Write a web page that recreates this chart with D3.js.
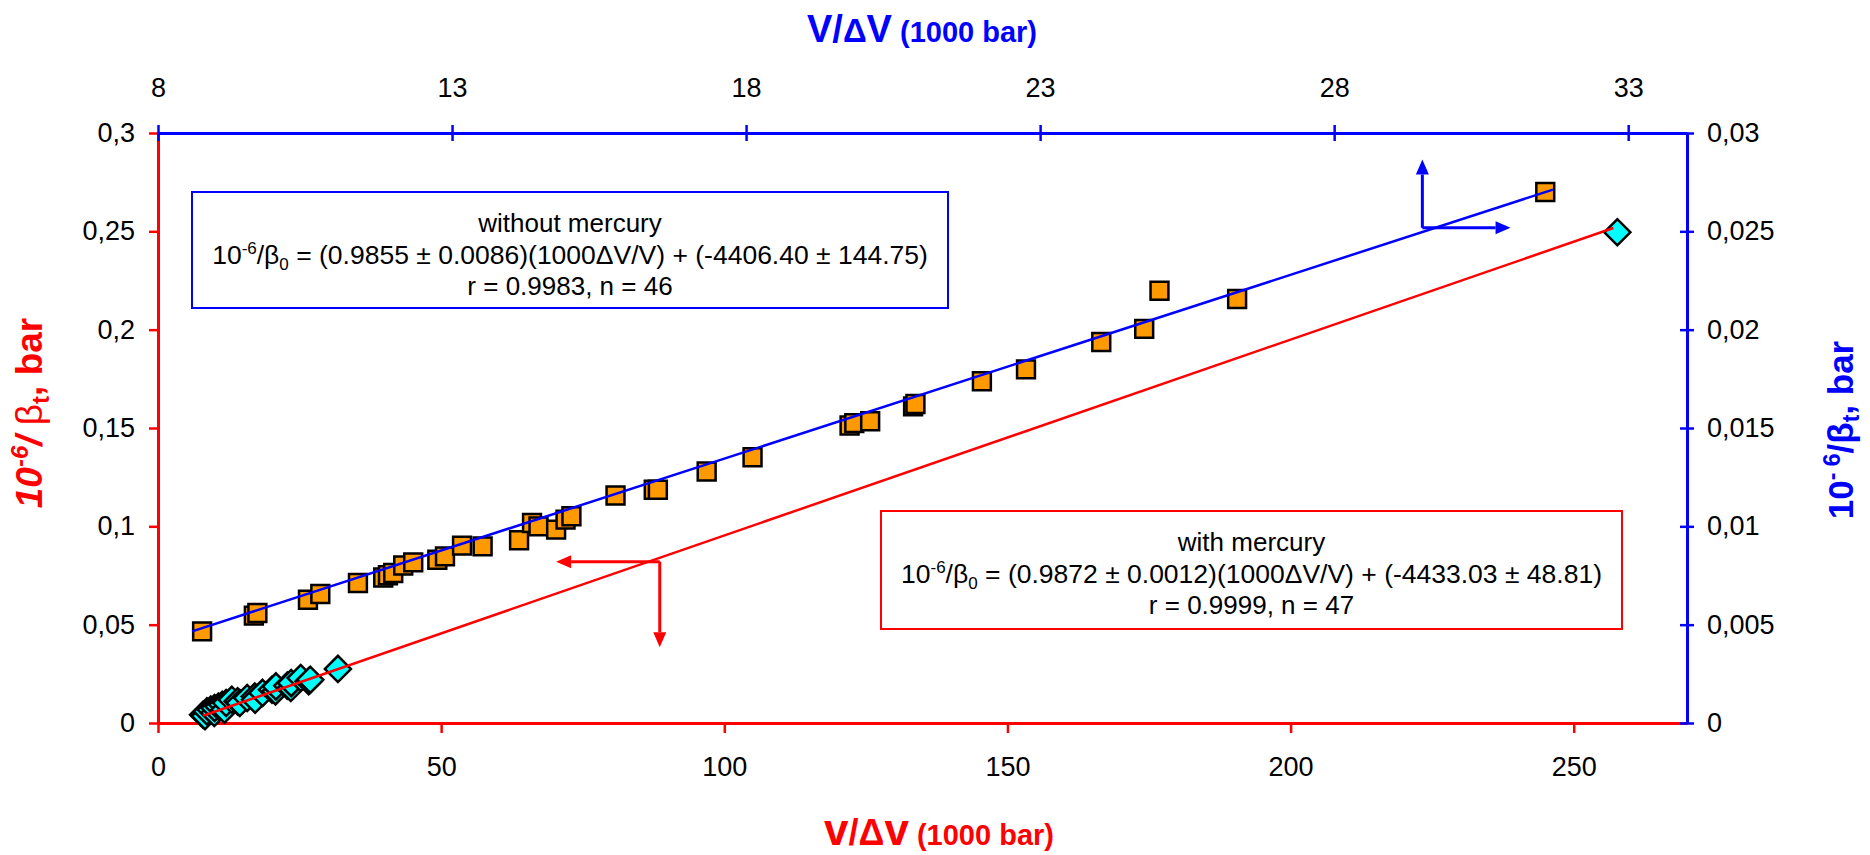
<!DOCTYPE html>
<html>
<head>
<meta charset="utf-8">
<script src="https://cdn.jsdelivr.net/npm/d3@7"></script>
<style>
  body { margin: 0; background: #fff; }
  svg { display: block; }
</style>
</head>
<body>
<svg id="chart" width="1870" height="855"></svg>
<script>
// --- data ---

// without mercury: V/ΔV (top axis) vs 10^-6/βt (right axis)
const noHgX = [8.75, 9.63, 9.69, 10.55, 10.76, 11.40, 11.83, 11.91, 12.00, 12.17, 12.34,
  12.75, 12.88, 13.17, 13.52, 14.14, 14.36, 14.47, 14.77, 14.93, 15.03, 15.78, 16.43,
  16.50, 17.33, 18.11, 19.76, 19.84, 20.11, 20.84, 20.88, 22.01, 22.76, 24.04, 24.77,
  25.03, 26.35, 31.59];
const noHgY = [0.00466, 0.00546, 0.00559, 0.00627, 0.00656, 0.00712, 0.00740, 0.00751,
  0.00763, 0.00801, 0.00817, 0.00830, 0.00847, 0.00902, 0.00898, 0.00929, 0.01017,
  0.01000, 0.00983, 0.01034, 0.01051, 0.01157, 0.01186, 0.01186, 0.01279, 0.01351,
  0.01513, 0.01525, 0.01534, 0.01610, 0.01622, 0.01738, 0.01798, 0.01937, 0.02004,
  0.02198, 0.02156, 0.02700];

// with mercury: v/Δv (bottom axis) vs 10^-6/βt (left axis)
const hgX = [7.96, 8.30, 8.65, 9.32, 9.94, 9.99, 10.68, 11.35, 11.74, 12.03, 13.03, 14.06,
  14.44, 15.75, 17.09, 17.15, 18.45, 20.13, 20.75, 20.82, 22.83, 23.45, 23.52, 25.20,
  26.61, 26.89, 31.77, 257.7];
const hgY = [0.0042, 0.0035, 0.0059, 0.0068, 0.0051, 0.0076, 0.0084, 0.0093, 0.0068,
  0.0102, 0.0118, 0.0110, 0.0102, 0.0127, 0.0135, 0.0118, 0.0153, 0.0169, 0.0161,
  0.0186, 0.0190, 0.0178, 0.0203, 0.0229, 0.0212, 0.0220, 0.0275, 0.2495];

// fitted lines (end points)
const noHgFitX = [8.58, 31.72];
const noHgFitY = [0.00466, 0.02712];
const hgFitX = [7.95, 257.0];
const hgFitY = [0.0037, 0.2517];

// ticks
const bottomTicks = [0, 50, 100, 150, 200, 250];
const leftTicks = [0, 0.05, 0.1, 0.15, 0.2, 0.25, 0.3];
const topTicks = [8, 13, 18, 23, 28, 33];
const rightTicks = [0, 0.005, 0.01, 0.015, 0.02, 0.025, 0.03];

// --- drawing ---
const FONT = "'Liberation Sans', Arial, sans-serif";
const RED = "#FF0000", BLUE = "#0000FF";

const svg = d3.select("#chart").attr("font-family", FONT);

const x0 = 158, x1 = 1687, y0 = 723, y1 = 133;

const xBottom = d3.scaleLinear().domain([0, 270]).range([x0, x1]);
const xTop = d3.scaleLinear().domain([8, 34]).range([x0, x1]);
const yLeft = d3.scaleLinear().domain([0, 0.3]).range([y0, y1]);
const yRight = d3.scaleLinear().domain([0, 0.03]).range([y0, y1]);

const fmt = d => String(d).replace(".", ",");

function styleAxis(g, color) {
  g.attr("font-family", FONT).attr("font-size", 27);
  g.select(".domain").attr("stroke", color).attr("stroke-width", 3);
  g.selectAll(".tick line").attr("stroke", color).attr("stroke-width", 2.5);
  g.selectAll(".tick text").attr("fill", "#000");
}

// red axes (with mercury)
const gBottom = svg.append("g")
  .attr("transform", `translate(0,${y0})`)
  .call(d3.axisBottom(xBottom).tickValues(bottomTicks).tickSize(10).tickSizeOuter(0).tickPadding(24));
styleAxis(gBottom, RED);

const gLeft = svg.append("g")
  .attr("transform", `translate(${x0},0)`)
  .call(d3.axisLeft(yLeft).tickValues(leftTicks).tickFormat(fmt).tickSize(9).tickSizeOuter(0).tickPadding(14));
styleAxis(gLeft, RED);

// blue axes (without mercury), ticks crossing the line
const gTop = svg.append("g")
  .attr("transform", `translate(0,${y1})`)
  .call(d3.axisTop(xTop).tickValues(topTicks).tickSize(8).tickSizeOuter(0).tickPadding(28));
styleAxis(gTop, BLUE);
gTop.selectAll(".tick line").attr("y1", 8);

const gRight = svg.append("g")
  .attr("transform", `translate(${x1},0)`)
  .call(d3.axisRight(yRight).tickValues(rightTicks).tickFormat(fmt).tickSize(7).tickSizeOuter(0).tickPadding(13));
styleAxis(gRight, BLUE);
gRight.selectAll(".tick line").attr("x1", -7);

// markers
svg.append("g").selectAll("path")
  .data(d3.zip(noHgX, noHgY))
  .join("path")
  .attr("transform", d => `translate(${xTop(d[0])},${yRight(d[1])})`)
  .attr("d", d3.symbol(d3.symbolSquare, 320))
  .attr("fill", "#FF9900")
  .attr("stroke", "#000")
  .attr("stroke-width", 2.5);

svg.append("g").selectAll("path")
  .data(d3.zip(hgX, hgY))
  .join("path")
  .attr("transform", d => `translate(${xBottom(d[0])},${yLeft(d[1])}) rotate(45)`)
  .attr("d", d3.symbol(d3.symbolSquare, 340))
  .attr("fill", "#00FFFF")
  .attr("stroke", "#000")
  .attr("stroke-width", 2.5);

// fit lines
svg.append("path")
  .datum(d3.zip(noHgFitX, noHgFitY))
  .attr("d", d3.line().x(d => xTop(d[0])).y(d => yRight(d[1])))
  .attr("fill", "none").attr("stroke", BLUE).attr("stroke-width", 2.5);

svg.append("path")
  .datum(d3.zip(hgFitX, hgFitY))
  .attr("d", d3.line().x(d => xBottom(d[0])).y(d => yLeft(d[1])))
  .attr("fill", "none").attr("stroke", RED).attr("stroke-width", 2.5);

// arrows pointing at the axes each series uses
function arrow(from, to, color) {
  const dx = to[0] - from[0], dy = to[1] - from[1];
  const len = Math.hypot(dx, dy), ux = dx / len, uy = dy / len;
  const head = 15, half = 6.5;
  const bx = to[0] - ux * head, by = to[1] - uy * head;
  svg.append("line")
    .attr("x1", from[0]).attr("y1", from[1]).attr("x2", bx).attr("y2", by)
    .attr("stroke", color).attr("stroke-width", 3);
  svg.append("path")
    .attr("d", `M${to[0]},${to[1]}L${bx - uy * half},${by + ux * half}L${bx + uy * half},${by - ux * half}Z`)
    .attr("fill", color);
}

const blueCorner = [xTop(29.5), yRight(0.02518)];
arrow(blueCorner, [blueCorner[0], yRight(0.02865)], BLUE);
arrow(blueCorner, [xTop(31.0), blueCorner[1]], BLUE);

const redCorner = [xBottom(88.6), yLeft(0.0820)];
arrow(redCorner, [xBottom(70.3), redCorner[1]], RED);
arrow(redCorner, [redCorner[0], yLeft(0.0385)], RED);

// equation boxes
function eqBox(bx, by, bw, bh, color, title, eq, stats) {
  const g = svg.append("g");
  g.append("rect")
    .attr("x", bx).attr("y", by).attr("width", bw).attr("height", bh)
    .attr("fill", "#fff").attr("stroke", color).attr("stroke-width", 2);
  const cx = bx + bw / 2;
  g.append("text").attr("x", cx).attr("y", by + 40)
    .attr("text-anchor", "middle").attr("font-size", 26).text(title);
  const t = g.append("text").attr("x", cx).attr("y", by + 72)
    .attr("text-anchor", "middle").attr("font-size", 26.5);
  t.append("tspan").text("10");
  t.append("tspan").attr("font-size", 17).attr("dy", -10).text("-6");
  t.append("tspan").attr("dy", 10).text("/β");
  t.append("tspan").attr("font-size", 17).attr("dy", 6).text("0");
  t.append("tspan").attr("dy", -6).text(eq);
  g.append("text").attr("x", cx).attr("y", by + 103)
    .attr("text-anchor", "middle").attr("font-size", 26).text(stats);
}

eqBox(192, 192, 756, 116, BLUE, "without mercury",
  " = (0.9855 ± 0.0086)(1000ΔV/V) + (-4406.40 ± 144.75)", "r = 0.9983, n = 46");
eqBox(881, 511, 741, 118, RED, "with mercury",
  " = (0.9872 ± 0.0012)(1000ΔV/V) + (-4433.03 ± 48.81)", "r = 0.9999, n = 47");

// axis titles
const topTitle = svg.append("text")
  .attr("x", 922).attr("y", 42).attr("text-anchor", "middle")
  .attr("fill", BLUE).attr("font-weight", "bold");
topTitle.append("tspan").attr("font-size", 38).text("V/");
topTitle.append("tspan").attr("font-size", 33).text("Δ");
topTitle.append("tspan").attr("font-size", 38).text("V");
topTitle.append("tspan").attr("font-size", 29).text(" (1000 bar)");

const bottomTitle = svg.append("text")
  .attr("x", 939).attr("y", 845).attr("text-anchor", "middle")
  .attr("fill", RED).attr("font-weight", "bold");
bottomTitle.append("tspan").attr("font-size", 44).text("v");
bottomTitle.append("tspan").attr("font-size", 36).text("/Δ");
bottomTitle.append("tspan").attr("font-size", 44).text("v");
bottomTitle.append("tspan").attr("font-size", 29).text(" (1000 bar)");

const leftTitle = svg.append("text")
  .attr("transform", "translate(42,413) rotate(-90)")
  .attr("text-anchor", "middle").attr("fill", RED)
  .attr("font-weight", "bold").attr("font-size", 37);
leftTitle.append("tspan").attr("font-style", "italic").text("10");
leftTitle.append("tspan").attr("font-style", "italic").attr("font-size", 24).attr("dy", -14).text("-6");
leftTitle.append("tspan").attr("font-style", "italic").attr("dy", 14).text("/ ");
leftTitle.append("tspan").attr("font-weight", "normal").text("β");
leftTitle.append("tspan").attr("font-size", 24).attr("dy", 7).text("t");
leftTitle.append("tspan").attr("dy", -7).text(", bar");

const rightTitle = svg.append("text")
  .attr("transform", "translate(1853,430) rotate(-90)")
  .attr("text-anchor", "middle").attr("fill", BLUE)
  .attr("font-weight", "bold").attr("font-size", 35);
rightTitle.append("tspan").text("10");
rightTitle.append("tspan").attr("font-size", 23).attr("dy", -13).text("- 6");
rightTitle.append("tspan").attr("dy", 13).text("/β");
rightTitle.append("tspan").attr("font-size", 23).attr("dy", 6).text("t");
rightTitle.append("tspan").attr("dy", -6).text(", bar");
</script>
</body>
</html>
